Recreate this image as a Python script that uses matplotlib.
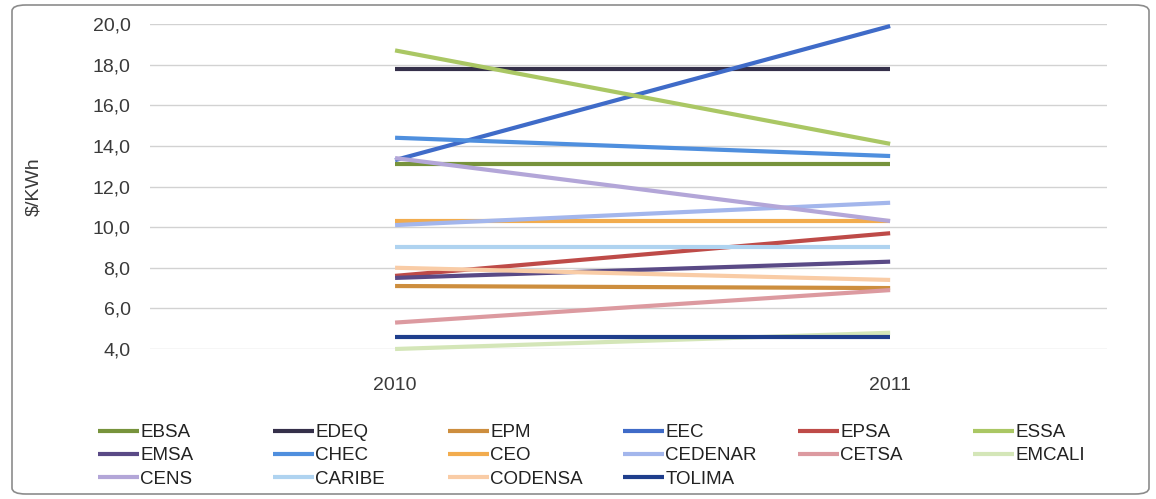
import matplotlib
matplotlib.use('Agg')
import matplotlib.pyplot as plt
from matplotlib.patches import FancyBboxPatch
from matplotlib.ticker import FuncFormatter

years = ['2010', '2011']
companies = ['EBSA', 'EDEQ', 'EPM', 'EEC', 'EPSA', 'ESSA',
             'EMSA', 'CHEC', 'CEO', 'CEDENAR', 'CETSA', 'EMCALI',
             'CENS', 'CARIBE', 'CODENSA', 'TOLIMA']
ebsa = [13.1, 13.1]
edeq = [17.8, 17.8]
epm = [7.1, 7.0]
eec = [13.3, 19.9]
epsa = [7.6, 9.7]
essa = [18.7, 14.1]
emsa = [7.5, 8.3]
chec = [14.4, 13.5]
ceo = [10.3, 10.3]
cedenar = [10.1, 11.2]
cetsa = [5.3, 6.9]
emcali = [4.0, 4.8]
cens = [13.4, 10.3]
caribe = [9.0, 9.0]
codensa = [8.0, 7.4]
tolima = [4.6, 4.6]
series = [ebsa, edeq, epm, eec, epsa, essa, emsa, chec, ceo, cedenar,
          cetsa, emcali, cens, caribe, codensa, tolima]
colors = ['#77933C', '#35304A', '#CD8E3E', '#3F6BC8', '#BE4B48', '#AAC764',
          '#5A4A86', '#4F8FDE', '#F2AC4E', '#A3B6EC', '#DC9AA0', '#D4E6B8',
          '#B3A6D8', '#AFD3F0', '#F9CCA6', '#1F3E8C']

plt.rcParams['font.family'] = ['Liberation Sans', 'DejaVu Sans']

fig = plt.figure(figsize=(11.56, 4.99), dpi=100)
ax = fig.add_axes([150 / 1156, 1 - 349 / 499, (1107 - 150) / 1156, (349 - 24) / 499])

x = list(range(len(years)))
lines = []
for name, vals, c in zip(companies, series, colors):
    ln, = ax.plot(x, vals, color=c, lw=3, label=name, clip_on=False,
                  solid_capstyle='butt')
    lines.append(ln)

ax.set_xlim(-0.495, 1.438)
ax.set_ylim(4, 20)
ax.set_yticks(range(4, 21, 2))
ax.yaxis.set_major_formatter(FuncFormatter(lambda v, p: f'{v:.1f}'.replace('.', ',')))
ax.set_xticks(x)
ax.set_xticklabels(years)
ax.grid(axis='y', color='#d2d2d2', lw=1)
ax.set_axisbelow(True)
for s in ax.spines.values():
    s.set_visible(False)
ax.tick_params(axis='both', length=0, labelsize=14, colors='#3a3a3a')
ax.tick_params(axis='y', pad=14)
ax.tick_params(axis='x', pad=20)
ax.set_ylabel('\\$/KWh', fontsize=14, color='#3a3a3a', labelpad=36)

# legend: six columns, equal spacing like the original
col_x = [98, 273, 448, 623, 798, 973]
for i, cx in enumerate(col_x):
    hs = lines[i::6]
    leg = fig.legend(handles=hs, labels=[h.get_label() for h in hs],
                     loc='upper left', bbox_to_anchor=(cx / 1156, 1 - 424 / 499),
                     frameon=False, fontsize=13.5, handlelength=2.2,
                     handletextpad=0.05, labelspacing=0.33, borderpad=0,
                     borderaxespad=0)
    for t in leg.get_texts():
        t.set_color('#222222')

fig.patches.append(FancyBboxPatch((12 / 1156, 5 / 499), 1137 / 1156, 489 / 499,
                                  boxstyle='round,pad=0,rounding_size=0.012',
                                  transform=fig.transFigure, fill=False,
                                  edgecolor='#8c8c8c', lw=1.2))

fig.savefig('out.png', dpi=100)
